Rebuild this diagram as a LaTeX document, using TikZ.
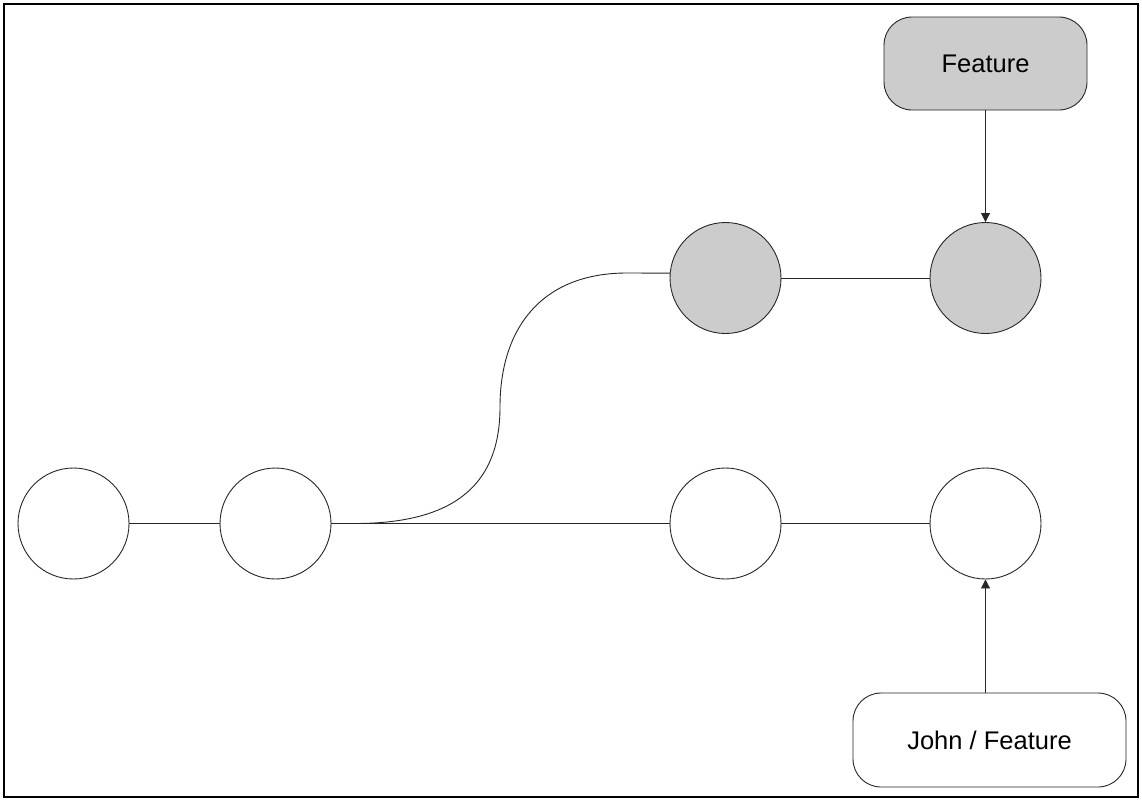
\documentclass[tikz,border=0pt]{standalone}
\usepackage{fontspec}
\setmainfont{Liberation Sans}
\usetikzlibrary{arrows.meta}
\definecolor{commitgray}{HTML}{CCCCCC}
\tikzset{
  commit/.style={circle, draw=black!85, line width=0.9pt, minimum size=111pt, inner sep=0pt, fill=white},
  gcommit/.style={commit, fill=commitgray},
  branchbox/.style={rectangle, rounded corners=28pt, draw=black!85, line width=0.9pt, inner sep=0pt, font=\fontsize{25.5}{30}\selectfont},
  link/.style={draw=black!85, line width=0.9pt},
  ptr/.style={link, -{Triangle[width=9pt,length=9pt]}}
}
\begin{document}
\begin{tikzpicture}[x=1pt,y=-1pt]
\useasboundingbox (0,0) rectangle (1142,801);
\draw[line width=2.6pt] (4,4) rectangle (1138,797);
\node[commit] (c1) at (73.5,523.5) {};
\node[commit] (c2) at (275.5,523.5) {};
\node[commit] (c3) at (725.5,523.5) {};
\node[commit] (c4) at (985.5,523.5) {};
\node[gcommit] (g1) at (725.5,278) {};
\node[gcommit] (g2) at (985.5,278) {};
\node[branchbox, fill=commitgray, minimum width=203pt, minimum height=93pt] (feat) at (985.5,63.5) {Feature};
\node[branchbox, fill=white, minimum width=273pt, minimum height=94pt] (john) at (989.5,740) {John / Feature};
\coordinate (split) at (355,523.5);
\coordinate (mid) at (500,407);
\coordinate (top) at (627,273);
\draw[link] (c1) -- (c2);
\draw[link] (c2) -- (c3);
\draw[link] (c3) -- (c4);
\draw[link] (g1) -- (g2);
\draw[link] (c2.east) -- (split) .. controls (460,523.5) and (500,480) .. (mid) .. controls (500,330) and (540,273) .. (top) -- (g1.175);
\draw[ptr] (feat.south -| g2) -- (g2.north);
\draw[ptr] (john.north -| c4) -- (c4.south);
\end{tikzpicture}
\end{document}
